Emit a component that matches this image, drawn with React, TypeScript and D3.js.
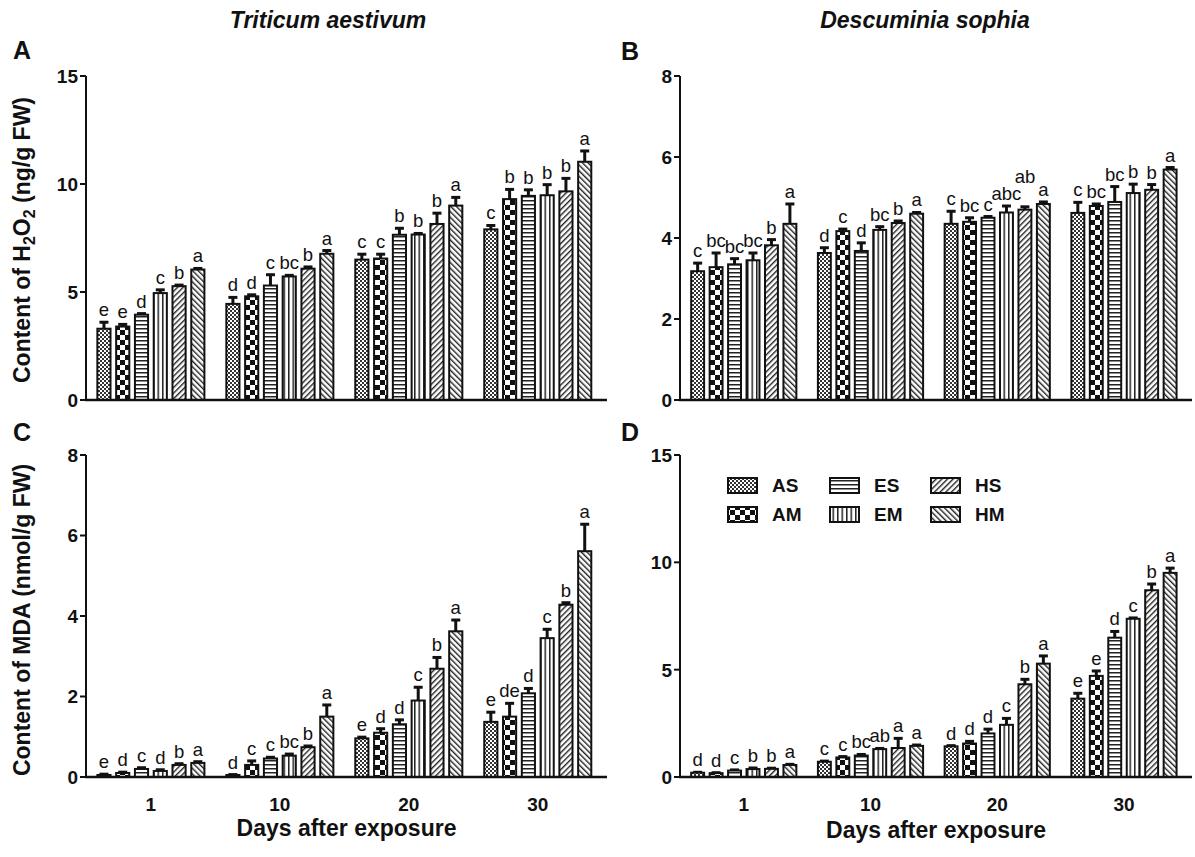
import * as d3 from "d3";

const days = ["1", "10", "20", "30"];
const treatments = ["AS", "AM", "ES", "EM", "HS", "HM"];

// A: Triticum aestivum, H2O2 (ng/g FW) — one row per treatment, across days
const taH2O2 = [
  [3.3, 4.45, 6.5, 7.9],
  [3.4, 4.8, 6.55, 9.3],
  [3.95, 5.3, 7.65, 9.45],
  [4.95, 5.72, 7.66, 9.48],
  [5.27, 6.08, 8.15, 9.66],
  [6.04, 6.77, 9.0, 11.03],
];
const taH2O2Err = [
  [0.3, 0.3, 0.25, 0.18],
  [0.1, 0.07, 0.2, 0.45],
  [0.05, 0.5, 0.3, 0.28],
  [0.15, 0.05, 0.05, 0.49],
  [0.05, 0.08, 0.5, 0.6],
  [0.05, 0.15, 0.38, 0.5],
];
const taH2O2Sig = [
  ["e", "d", "c", "c"],
  ["e", "d", "c", "b"],
  ["d", "c", "b", "b"],
  ["c", "bc", "b", "b"],
  ["b", "b", "b", "b"],
  ["a", "a", "a", "a"],
];

// B: Descuminia sophia, H2O2
const dsH2O2 = [
  [3.18, 3.63, 4.35, 4.62],
  [3.28, 4.17, 4.4, 4.79],
  [3.35, 3.68, 4.5, 4.89],
  [3.45, 4.2, 4.63, 5.11],
  [3.82, 4.37, 4.7, 5.19],
  [4.35, 4.6, 4.84, 5.69],
];
const dsH2O2Err = [
  [0.2, 0.13, 0.31, 0.26],
  [0.35, 0.05, 0.1, 0.05],
  [0.14, 0.2, 0.03, 0.38],
  [0.18, 0.08, 0.16, 0.22],
  [0.14, 0.05, 0.07, 0.13],
  [0.49, 0.03, 0.05, 0.05],
];
const dsH2O2Sig = [
  ["c", "d", "c", "c"],
  ["bc", "c", "bc", "bc"],
  ["bc", "d", "c", "bc"],
  ["bc", "bc", "abc", "b"],
  ["b", "b", "ab", "b"],
  ["a", "a", "a", "a"],
];

// C: Triticum aestivum, MDA (nmol/g FW)
const taMDA = [
  [0.05, 0.05, 0.96, 1.37],
  [0.1, 0.3, 1.1, 1.5],
  [0.2, 0.46, 1.31, 2.08],
  [0.15, 0.53, 1.9, 3.45],
  [0.3, 0.74, 2.69, 4.28],
  [0.35, 1.5, 3.62, 5.61],
];
const taMDAErr = [
  [0.02, 0.01, 0.03, 0.24],
  [0.02, 0.1, 0.1, 0.33],
  [0.03, 0.03, 0.11, 0.12],
  [0.03, 0.04, 0.33, 0.22],
  [0.03, 0.03, 0.28, 0.05],
  [0.03, 0.29, 0.28, 0.67],
];
const taMDASig = [
  ["e", "d", "e", "e"],
  ["d", "c", "d", "de"],
  ["c", "c", "d", "d"],
  ["d", "bc", "c", "c"],
  ["b", "b", "b", "b"],
  ["a", "a", "a", "a"],
];

// D: Descuminia sophia, MDA
const dsMDA = [
  [0.2, 0.71, 1.43, 3.65],
  [0.18, 0.91, 1.56, 4.71],
  [0.3, 1.0, 2.03, 6.49],
  [0.37, 1.3, 2.43, 7.37],
  [0.38, 1.35, 4.32, 8.7],
  [0.56, 1.45, 5.28, 9.51],
];
const dsMDAErr = [
  [0.02, 0.03, 0.03, 0.25],
  [0.02, 0.04, 0.1, 0.23],
  [0.03, 0.05, 0.2, 0.29],
  [0.05, 0.03, 0.3, 0.04],
  [0.03, 0.45, 0.23, 0.29],
  [0.03, 0.04, 0.36, 0.22],
];
const dsMDASig = [
  ["d", "c", "d", "e"],
  ["d", "c", "d", "e"],
  ["c", "bc", "d", "d"],
  ["b", "ab", "c", "c"],
  ["b", "a", "b", "b"],
  ["a", "a", "a", "a"],
];

const FONT = "'Liberation Sans', Arial, sans-serif";
const LETTER_SIZE = 18.5;
const patternIds = ["pAS", "pAM", "pES", "pEM", "pHS", "pHM"];

const Patterns = () => (
  <defs>
    <pattern id="pAS" width={4} height={4} patternUnits="userSpaceOnUse">
      <rect width={4} height={4} fill="white" />
      <rect x={0} y={0} width={2} height={2} fill="#333" />
      <rect x={2} y={2} width={2} height={2} fill="#333" />
    </pattern>
    <pattern id="pAM" width={10} height={10} patternUnits="userSpaceOnUse">
      <rect width={10} height={10} fill="white" />
      <rect x={0} y={0} width={5} height={5} fill="#111" />
      <rect x={5} y={5} width={5} height={5} fill="#111" />
    </pattern>
    <pattern id="pES" width={4} height={4} patternUnits="userSpaceOnUse">
      <rect width={4} height={4} fill="white" />
      <rect x={0} y={0} width={4} height={1.5} fill="#222" />
    </pattern>
    <pattern id="pEM" width={4.5} height={4} patternUnits="userSpaceOnUse">
      <rect width={4.5} height={4} fill="white" />
      <rect x={0} y={0} width={1.5} height={4} fill="#222" />
    </pattern>
    <pattern
      id="pHS"
      width={4}
      height={4}
      patternUnits="userSpaceOnUse"
      patternTransform="rotate(45)"
    >
      <rect width={4} height={4} fill="white" />
      <rect x={0} y={0} width={1.4} height={4} fill="#222" />
    </pattern>
    <pattern
      id="pHM"
      width={4}
      height={4}
      patternUnits="userSpaceOnUse"
      patternTransform="rotate(-45)"
    >
      <rect width={4} height={4} fill="white" />
      <rect x={0} y={0} width={1.4} height={4} fill="#222" />
    </pattern>
  </defs>
);

type PanelProps = {
  x0: number;
  x1: number;
  yTop: number;
  yBottom: number;
  yMax: number;
  ticks: number[];
  values: number[][];
  errors: number[][];
  sig: string[][];
  showX: boolean;
};

// rough glyph width of the (lowercase) significance letters
const labelWidth = (s: string) => s.length * 0.54 * LETTER_SIZE;

const Panel = ({ x0, x1, yTop, yBottom, yMax, ticks, values, errors, sig, showX }: PanelProps) => {
  const x = d3.scaleBand().domain(days).range([x0, x1]).paddingInner(0.17).paddingOuter(0.105).align(0.42);
  const xi = d3.scaleBand().domain(treatments).range([0, x.bandwidth()]).paddingInner(0.3).paddingOuter(0);
  const y = d3.scaleLinear().domain([0, yMax]).range([yBottom, yTop]);
  const bw = xi.bandwidth();

  // place letters above the error bars, lifting one when it collides with its left neighbour
  const labels: { key: string; x: number; y: number; text: string }[] = [];
  days.forEach((d, di) => {
    let prev: { x: number; y: number; w: number } | null = null;
    treatments.forEach((t, ti) => {
      const cx = (x(d) ?? 0) + (xi(t) ?? 0) + bw / 2;
      const text = sig[ti][di];
      const w = labelWidth(text);
      let ly = y(values[ti][di] + errors[ti][di]) - 6;
      if (prev) {
        const hOverlap = prev.w / 2 + w / 2 - (cx - prev.x);
        if (hOverlap > 3 && Math.abs(ly - prev.y) < LETTER_SIZE * 0.8) {
          ly = prev.y - LETTER_SIZE * 0.9;
        }
      }
      labels.push({ key: t + d, x: cx, y: ly, text });
      prev = { x: cx, y: ly, w };
    });
  });

  return (
    <g>
      {treatments.map((t, ti) =>
        days.map((d, di) => {
          const v = values[ti][di];
          const e = errors[ti][di];
          const bx = (x(d) ?? 0) + (xi(t) ?? 0);
          const cx = bx + bw / 2;
          return (
            <g key={t + d}>
              <line x1={cx} x2={cx} y1={y(v)} y2={y(v + e)} stroke="#111" strokeWidth={3} />
              <line x1={cx - 4.5} x2={cx + 4.5} y1={y(v + e)} y2={y(v + e)} stroke="#111" strokeWidth={3} />
              <rect
                x={bx}
                y={y(v)}
                width={bw}
                height={yBottom - y(v)}
                fill={`url(#${patternIds[ti]})`}
                stroke="#111"
                strokeWidth={2}
              />
            </g>
          );
        })
      )}
      {labels.map((l) => (
        <text
          key={l.key}
          x={l.x}
          y={l.y}
          textAnchor="middle"
          fontSize={LETTER_SIZE}
          fontFamily={FONT}
          fill="#111"
        >
          {l.text}
        </text>
      ))}
      {/* y axis */}
      <line x1={x0} x2={x0} y1={yBottom} y2={yTop} stroke="#111" strokeWidth={2} />
      {ticks.map((tk) => (
        <g key={tk}>
          <line x1={x0 - 6} x2={x0} y1={y(tk)} y2={y(tk)} stroke="#111" strokeWidth={2} />
          <text
            x={x0 - 8}
            y={y(tk)}
            dy="0.36em"
            textAnchor="end"
            fontSize={19}
            fontWeight="bold"
            fontFamily={FONT}
            fill="#111"
          >
            {tk}
          </text>
        </g>
      ))}
      {/* x axis */}
      <line x1={x0 - 1} x2={x1} y1={yBottom} y2={yBottom} stroke="#111" strokeWidth={2.5} />
      {showX &&
        days.map((d) => (
          <text
            key={d}
            x={(x(d) ?? 0) + x.bandwidth() / 2}
            y={yBottom + 34}
            textAnchor="middle"
            fontSize={19}
            fontWeight="bold"
            fontFamily={FONT}
            fill="#111"
          >
            {d}
          </text>
        ))}
    </g>
  );
};

const Legend = ({ left, top }: { left: number; top: number }) => {
  const col = d3.scaleOrdinal<number, number>().domain([0, 1, 2]).range([0, 102, 203]);
  return (
    <g>
      {treatments.map((t, i) => {
        const c = Math.floor(i / 2);
        const r = i % 2;
        const lx = left + col(c);
        const ly = top + r * 29;
        return (
          <g key={t}>
            <rect x={lx} y={ly} width={29} height={15} fill={`url(#${patternIds[i]})`} stroke="#111" strokeWidth={2} />
            <text x={lx + 44} y={ly + 14} fontSize={19} fontWeight="bold" fontFamily={FONT} fill="#111">
              {t}
            </text>
          </g>
        );
      })}
    </g>
  );
};

export default function App() {
  const W = 1195;
  const H = 857;
  const L = 86;
  const LR = 607;
  const R = 680;
  const RR = 1192;
  const topT = 76;
  const topB = 400;
  const botT = 455;
  const botB = 777;
  return (
    <svg
      width={W}
      height={H}
      style={{ position: "absolute", left: 0, top: 0, background: "white" }}
      fontFamily={FONT}
    >
      <Patterns />
      <rect width={W} height={H} fill="white" />
      <text x={328} y={28} textAnchor="middle" fontSize={23} fontWeight="bold" fontStyle="italic" fill="#111">
        Triticum aestivum
      </text>
      <text x={925} y={28} textAnchor="middle" fontSize={23} fontWeight="bold" fontStyle="italic" fill="#111">
        Descuminia sophia
      </text>
      <text x={13} y={59} fontSize={25} fontWeight="bold" fill="#111">A</text>
      <text x={621} y={60} fontSize={25} fontWeight="bold" fill="#111">B</text>
      <text x={13} y={441} fontSize={25} fontWeight="bold" fill="#111">C</text>
      <text x={621} y={441} fontSize={25} fontWeight="bold" fill="#111">D</text>

      <text
        transform={`translate(30, ${(topT + topB) / 2 + 2}) rotate(-90)`}
        textAnchor="middle"
        fontSize={23}
        fontWeight="bold"
        fill="#111"
      >
        Content of H<tspan fontSize={16} dy={5}>2</tspan>
        <tspan dy={-5}>O</tspan>
        <tspan fontSize={16} dy={5}>2</tspan>
        <tspan dy={-5}> (ng/g FW)</tspan>
      </text>
      <text
        transform={`translate(30, ${(botT + botB) / 2 + 4}) rotate(-90)`}
        textAnchor="middle"
        fontSize={23}
        fontWeight="bold"
        fill="#111"
      >
        Content of MDA (nmol/g FW)
      </text>

      <Panel x0={L} x1={LR} yTop={topT} yBottom={topB} yMax={15} ticks={[0, 5, 10, 15]}
        values={taH2O2} errors={taH2O2Err} sig={taH2O2Sig} showX={false} />
      <Panel x0={R} x1={RR} yTop={topT} yBottom={topB} yMax={8} ticks={[0, 2, 4, 6, 8]}
        values={dsH2O2} errors={dsH2O2Err} sig={dsH2O2Sig} showX={false} />
      <Panel x0={L} x1={LR} yTop={botT} yBottom={botB} yMax={8} ticks={[0, 2, 4, 6, 8]}
        values={taMDA} errors={taMDAErr} sig={taMDASig} showX={true} />
      <Panel x0={R} x1={RR} yTop={botT} yBottom={botB} yMax={15} ticks={[0, 5, 10, 15]}
        values={dsMDA} errors={dsMDAErr} sig={dsMDASig} showX={true} />

      <Legend left={728} top={478} />

      <text x={(L + LR) / 2} y={836} textAnchor="middle" fontSize={23} fontWeight="bold" fill="#111">
        Days after exposure
      </text>
      <text x={(R + RR) / 2} y={838} textAnchor="middle" fontSize={23} fontWeight="bold" fill="#111">
        Days after exposure
      </text>
    </svg>
  );
}
